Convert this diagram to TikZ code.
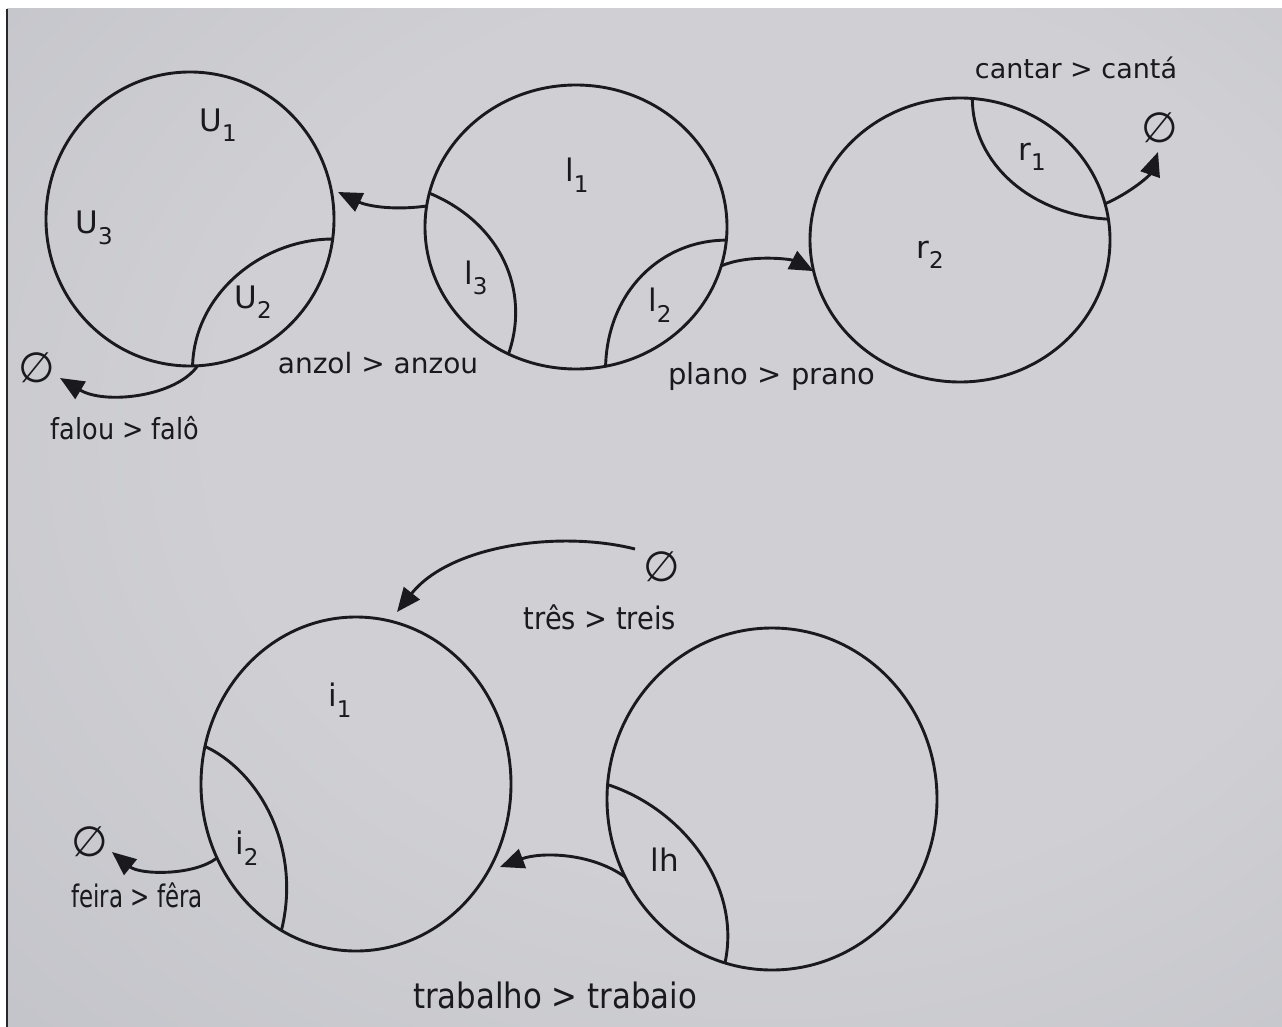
\documentclass[tikz,border=0pt]{standalone}
\usepackage{fontspec}
\setmainfont{DejaVu Sans}
\newfontfamily\condfont[FakeStretch=0.88]{DejaVu Sans}
\newfontfamily\narrowfont[FakeStretch=0.74]{DejaVu Sans}
\usetikzlibrary{shapes.geometric,arrows.meta}
\definecolor{ink}{RGB}{25,25,30}
\definecolor{bgA}{RGB}{208,208,212}
\definecolor{bgB}{RGB}{192,193,199}
\definecolor{bgC}{RGB}{148,149,159}
\definecolor{edgeline}{RGB}{40,40,44}
\pgfdeclareradialshading{vign}{\pgfpoint{8bp}{6bp}}{color(0bp)=(bgA); color(22bp)=(bgA); color(45bp)=(bgB); color(70bp)=(bgC)}
\newcommand{\seg}[2]{#1\raisebox{-0.34em}{\fontsize{23}{23}\selectfont #2}}
\tikzset{
  ring/.style={ellipse, draw=ink, line width=2.9pt, inner sep=0pt, outer sep=0pt},
  part/.style={draw=ink, line width=2.9pt},
  conn/.style={draw=ink, line width=2.9pt, -{Triangle[length=24pt,width=20pt]}},
  lbl/.style={text=ink, inner sep=0pt, font=\fontsize{31}{34}\selectfont},
  txt/.style={text=ink, inner sep=0pt, font=\fontsize{28}{32}\selectfont},
  empt/.style={text=ink, inner sep=0pt, font=\fontsize{42}{46}\selectfont}
}
\begin{document}
\begin{tikzpicture}[x=1pt,y=1pt]
\useasboundingbox (0,0) rectangle (1282,-1027);
\fill[white] (0,0) rectangle (1282,-1027);
\shade[shading=vign] (7,-9) rectangle (1282,-1027);
\draw[edgeline, line width=1.5pt] (7,-9) -- (7,-1027);

% circles
\node[ring, minimum width=288pt, minimum height=294pt] (U) at (190,-219) {};
\node[ring, minimum width=302pt, minimum height=284pt] (I) at (576,-227) {};
\node[ring, minimum width=300pt, minimum height=284pt] (R) at (960,-240) {};
\node[ring, minimum width=310pt, minimum height=334pt] (Ib) at (356,-784) {};
\node[ring, minimum width=330pt, minimum height=342pt] (L) at (772,-799) {};

% inner arcs
\draw[part] (U.-8.5) .. controls +(-70,0) and +(2,73) .. (U.-89);
\draw[part] (I.167.8) .. controls +(72,-30) and +(22,63) .. (I.-118.4);
\draw[part] (I.-5) .. controls +(-65,0) and +(2,75) .. (I.-78.9);
\draw[part] (R.85.1) .. controls +(0,-66) and +(-76,4) .. (R.8.2);
\draw[part] (Ib.166.8) .. controls +(57,-27) and +(20,80) .. (Ib.-117.5);
\draw[part] (L.175.8) .. controls +(72,-23) and +(17,80) .. (L.-106.9);

% segment labels
\node[lbl] (lU1) at (218,-125) {\seg{U}{1}};
\node[lbl] (lU3) at (94,-228) {\seg{U}{3}};
\node[lbl] (lU2) at (253,-302) {\seg{U}{2}};
\node[lbl] (lI1) at (577,-175) {\seg{l}{1}};
\node[lbl] (lI3) at (476,-278) {\seg{l}{3}};
\node[lbl] (lI2) at (660,-305) {\seg{l}{2}};
\node[lbl] (lr1) at (1032,-157) {\seg{r}{1}};
\node[lbl] (lr2) at (930,-255) {\seg{r}{2}};
\node[lbl] (li1) at (340,-700) {\seg{i}{1}};
\node[lbl] (li2) at (247,-848) {\seg{i}{2}};
\node[lbl] (llh) at (665,-860) {lh};

% empty-set symbols
\node[empt] (e1) at (37,-368) {∅};
\node[empt] (e2) at (1160,-128) {∅};
\node[empt] (e3) at (662,-567) {∅};
\node[empt] (e4) at (90,-842) {∅};

% arrow end points
\coordinate (tipU) at (338,-192);
\coordinate (tipE1) at (60,-378);
\coordinate (tipE2) at (1158,-152);
\coordinate (srcE3) at (635,-549);
\coordinate (tipIb) at (397,-612);
\coordinate (tipIb2) at (500,-867);
\coordinate (tipE4) at (112,-852);

% connectors
\draw[conn] (I.172.4) .. controls +(-37,-5) and +(27,-13) .. (tipU);
\draw[conn] (U.-87) .. controls +(-22,-31) and +(45,-27) .. (tipE1);
\draw[conn] (I.-15.3) .. controls +(28,12) and +(-23,12) .. (R.-168.5);
\draw[conn] (R.14.9) .. controls +(27,12) and +(-8,-23) .. (tipE2);
\draw[conn] (srcE3) .. controls +(-75,19) and +(53,67) .. (tipIb);
\draw[conn] (L.-152.7) .. controls +(-35,25) and +(40,15) .. (tipIb2);
\draw[conn] (Ib.-152.9) .. controls +(-23,-18) and +(28,-23) .. (tipE4);

% change labels
\node[txt] (tAnzol) at (378,-363) {anzol > anzou};
\node[txt, font=\fontsize{29}{32}\selectfont] (tPlano) at (772,-376) {plano > prano};
\node[txt, font=\fontsize{27}{32}\selectfont] (tCantar) at (1076,-68) {cantar > cantá};
\node[txt, font=\condfont\fontsize{29}{32}\selectfont] (tFalou) at (125,-428) {falou > falô};
\node[txt, font=\condfont\fontsize{31}{34}\selectfont] (tTres) at (600,-617) {três > treis};
\node[txt, font=\narrowfont\fontsize{31}{34}\selectfont] (tFeira) at (137,-895) {feira > fêra};
\node[txt, font=\condfont\fontsize{35}{38}\selectfont] (tTrab) at (555,-995) {trabalho > trabaio};
\end{tikzpicture}
\end{document}
